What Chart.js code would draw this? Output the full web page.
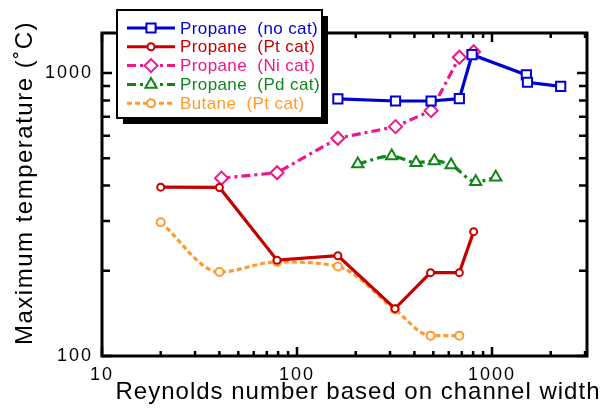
<!DOCTYPE html>
<html>
<head>
<meta charset="utf-8">
<script src="https://cdn.jsdelivr.net/npm/chart.js@4/dist/chart.umd.min.js"></script>
<style>
  html, body { margin: 0; padding: 0; background: #fff; }
</style>
</head>
<body>
<canvas id="myChart" width="609" height="410"></canvas>
<script>
// data (Reynolds number vs max temperature, log-log)
var seriesNames = ['Propane  (no cat)', 'Propane  (Pt cat)', 'Propane  (Ni cat)', 'Propane  (Pd cat)', 'Butane  (Pt cat)'];
var reNoCat = [162, 320, 487, 680, 790, 1500, 1520, 2250];
var tNoCat  = [810, 796, 796, 811, 1160, 984, 927, 897];
var rePt = [20, 40, 79, 162, 318, 484, 680, 805];
var tPt  = [395, 394, 218, 226, 147, 197, 197, 275];
var reNi = [41, 79, 162, 320, 487, 680, 805];
var tNi  = [425, 444, 588, 646, 736, 1136, 1189];
var rePd = [205, 306, 408, 506, 617, 825, 1045];
var tPd  = [477, 509, 482, 489, 473, 413, 428];
var reBu = [20, 40, 79, 162, 318, 484, 680];
var tBu  = [297, 198, 215, 207, 146, 118, 118];
var xTickLabels = [10, 100, 1000];
var yTickLabels = [100, 1000];

var FONT = "'Liberation Sans', Arial, sans-serif";

function pts(xs, ys) {
  return xs.map(function (v, i) { return { x: v, y: ys[i] }; });
}

var datasets = [
  { label: seriesNames[0], data: pts(reNoCat, tNoCat), borderColor: '#0000d0', pointStyle: 'rect', pointRadius: 6.5, dash: [] },
  { label: seriesNames[1], data: pts(rePt, tPt), borderColor: '#c40000', pointStyle: 'circle', pointRadius: 3.5, dash: [] },
  { label: seriesNames[2], data: pts(reNi, tNi), borderColor: '#f0168c', pointStyle: 'rectRot', pointRadius: 6.5, dash: [9, 4, 3, 4] },
  { label: seriesNames[3], data: pts(rePd, tPd), borderColor: '#10861a', pointStyle: 'triangle', pointRadius: 6.5, dash: [9, 4, 3, 4], cubicInterpolationMode: 'monotone' },
  { label: seriesNames[4], data: pts(reBu, tBu), borderColor: '#ff9a30', pointStyle: 'circle', pointRadius: 4, dash: [5, 3], cubicInterpolationMode: 'monotone' }
].map(function (d) {
  d.borderWidth = 3.2;
  d.borderDash = d.dash;
  d.pointBorderColor = d.borderColor;
  d.pointBackgroundColor = '#fff';
  d.pointBorderWidth = 2;
  d.fill = false;
  return d;
});

// frame + inward ticks on all four sides
var framePlugin = {
  id: 'frame',
  afterDatasetsDraw: function (chart) {
    var ctx = chart.ctx, a = chart.chartArea, xs = chart.scales.x, ys = chart.scales.y;
    ctx.save();
    ctx.strokeStyle = '#000';
    ctx.lineWidth = 2.5;
    ctx.setLineDash([]);
    [1, 10, 100, 1000].forEach(function (d) {
      for (var m = 1; m <= 9; m++) {
        var v = d * m, len;
        if (v >= xs.min && v <= xs.max) {
          var px = xs.getPixelForValue(v);
          len = m === 1 ? 9 : 5;
          ctx.beginPath();
          ctx.moveTo(px, a.bottom); ctx.lineTo(px, a.bottom - len);
          ctx.moveTo(px, a.top); ctx.lineTo(px, a.top + len);
          ctx.stroke();
        }
        if (v >= ys.min && v <= ys.max) {
          var py = ys.getPixelForValue(v);
          len = m === 1 ? 10 : 8;
          ctx.beginPath();
          ctx.moveTo(a.left, py); ctx.lineTo(a.left + len, py);
          ctx.moveTo(a.right, py); ctx.lineTo(a.right - len, py);
          ctx.stroke();
        }
      }
    });
    ctx.lineWidth = 3;
    ctx.strokeRect(a.left, a.top, a.right - a.left, a.bottom - a.top);

    // axis titles
    ctx.fillStyle = '#000';
    ctx.font = '24px ' + FONT;
    ctx.textAlign = 'center';
    ctx.textBaseline = 'middle';
    ctx.letterSpacing = '1px';
    ctx.fillText('Reynolds number based on channel width', 358, 392);
    ctx.translate(25, 183);
    ctx.rotate(-Math.PI / 2);
    ctx.letterSpacing = '1.5px';
    ctx.fillText('Maximum temperature (\u02DAC)', 0, 0);
    ctx.restore();
  }
};

// boxed legend with drop shadow
var legendPlugin = {
  id: 'boxLegend',
  afterDraw: function (chart) {
    var ctx = chart.ctx;
    var bx = 117, by = 10, bw = 205, bh = 108;
    ctx.save();
    ctx.letterSpacing = '0.4px';
    ctx.fillStyle = '#000';
    ctx.fillRect(bx + 6, by + 6, bw, bh);
    ctx.fillStyle = '#fff';
    ctx.fillRect(bx, by, bw, bh);
    ctx.strokeStyle = '#000';
    ctx.lineWidth = 2;
    ctx.strokeRect(bx, by, bw, bh);
    ctx.font = '17px ' + FONT;
    ctx.textAlign = 'left';
    ctx.textBaseline = 'middle';
    chart.data.datasets.forEach(function (d, i) {
      var yy = 28 + i * 18.8;
      ctx.strokeStyle = d.borderColor;
      ctx.lineWidth = 3;
      ctx.setLineDash(d.borderDash);
      ctx.beginPath();
      ctx.moveTo(127, yy); ctx.lineTo(175, yy);
      ctx.stroke();
      ctx.setLineDash([]);
      ctx.fillStyle = '#fff';
      ctx.lineWidth = 2;
      Chart.helpers.drawPoint(ctx, { pointStyle: d.pointStyle, radius: d.pointRadius, rotation: 0, borderWidth: 2 }, 151, yy);
      ctx.fillStyle = d.borderColor;
      ctx.fillText(d.label, 180, yy + 1);
    });
    ctx.restore();
  }
};

var ctx = document.getElementById('myChart').getContext('2d');
var myChart = new Chart(ctx, {
  type: 'line',
  data: { datasets: datasets },
  options: {
    responsive: false,
    animation: false,
    layout: { padding: { top: 33, right: 22, left: 0, bottom: 0 } },
    plugins: { legend: { display: false }, tooltip: { enabled: false } },
    scales: {
      x: {
        type: 'logarithmic',
        min: 10,
        max: 3070,
        afterBuildTicks: function (s) { s.ticks = xTickLabels.map(function (v) { return { value: v }; }); },
        afterFit: function (s) { s.height = 54; },
        grid: { display: false, drawTicks: false },
        border: { display: false },
        ticks: {
          autoSkip: false, maxRotation: 0, padding: 8, color: '#000',
          font: { family: FONT, size: 18 },
          callback: function (v) { return String(v); }
        }
      },
      y: {
        type: 'logarithmic',
        min: 100,
        max: 1384,
        afterBuildTicks: function (s) { s.ticks = yTickLabels.map(function (v) { return { value: v }; }); },
        afterFit: function (s) { s.width = 102; },
        grid: { display: false, drawTicks: false },
        border: { display: false },
        ticks: {
          autoSkip: false, padding: 9, color: '#000',
          font: { family: FONT, size: 18 },
          callback: function (v) { return String(v); }
        }
      }
    }
  },
  plugins: [framePlugin, legendPlugin, {
    id: 'spacing',
    beforeDraw: function (chart) { chart.ctx.letterSpacing = '2px'; }
  }]
});
</script>
</body>
</html>
